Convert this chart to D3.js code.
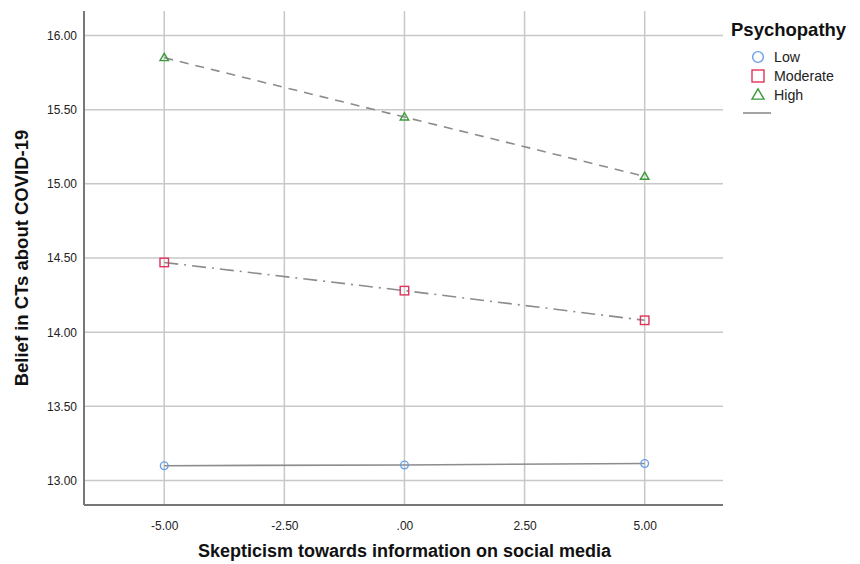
<!DOCTYPE html>
<html>
<head>
<meta charset="utf-8">
<script src="https://cdn.jsdelivr.net/npm/d3@7"></script>
<style>
  body { margin: 0; background: #fff; }
  text { font-family: "Liberation Sans", Arial, sans-serif; }
</style>
</head>
<body>
<svg id="chart" width="860" height="564"></svg>
<script>
// data
var xValues = [-5, 0, 5];
var xTicks = [-5, -2.5, 0, 2.5, 5];
var yTicks = [13, 13.5, 14, 14.5, 15, 15.5, 16];
var groups = ["Low", "Moderate", "High"];
var lowValues = [13.10, 13.105, 13.115];
var moderateValues = [14.47, 14.28, 14.08];
var highValues = [15.85, 15.45, 15.05];

var svg = d3.select("#chart"),
    margin = {top: 11, right: 137, bottom: 59, left: 84},
    width = +svg.attr("width") - margin.left - margin.right,
    height = +svg.attr("height") - margin.top - margin.bottom,
    g = svg.append("g").attr("transform", "translate(" + margin.left + "," + margin.top + ")");

var x = d3.scaleLinear().domain([-6.67, 6.63]).range([0, width]);
var y = d3.scaleLinear().domain([12.835, 16.165]).range([height, 0]);

function fmt(d) {
  var s = d3.format(".2f")(d).replace("\u2212", "-");
  return s.replace(/^0\./, ".").replace(/^-0\./, "-.");
}

// grid
g.append("g")
  .selectAll("line")
  .data(yTicks)
  .enter().append("line")
    .attr("x1", 0).attr("x2", width)
    .attr("y1", function(d) { return y(d); })
    .attr("y2", function(d) { return y(d); })
    .attr("stroke", "#c8c8c8").attr("stroke-width", 1.5);

g.append("g")
  .selectAll("line")
  .data(xTicks)
  .enter().append("line")
    .attr("y1", 0).attr("y2", height)
    .attr("x1", function(d) { return x(d); })
    .attr("x2", function(d) { return x(d); })
    .attr("stroke", "#c8c8c8").attr("stroke-width", 1.5);

// axes
var yAxis = g.append("g")
  .call(d3.axisLeft(y).tickValues(yTicks).tickFormat(fmt).tickSize(0).tickPadding(7));
var xAxis = g.append("g")
  .attr("transform", "translate(0," + height + ")")
  .call(d3.axisBottom(x).tickValues(xTicks).tickFormat(fmt).tickSize(0).tickPadding(16));

[xAxis, yAxis].forEach(function(a) {
  a.select(".domain").remove();
  a.selectAll("text").attr("font-size", 12).attr("fill", "#222")
    .style("font-family", "'Liberation Sans', Arial, sans-serif");
});

g.append("line").attr("x1", 0).attr("x2", 0).attr("y1", 0).attr("y2", height)
  .attr("stroke", "#777").attr("stroke-width", 2);
g.append("line").attr("x1", 0).attr("x2", width).attr("y1", height).attr("y2", height)
  .attr("stroke", "#777").attr("stroke-width", 2);

// axis titles
svg.append("text")
  .attr("x", margin.left + x(0))
  .attr("y", 557)
  .attr("text-anchor", "middle")
  .attr("font-size", 18).attr("font-weight", "bold").attr("fill", "#111")
  .text("Skepticism towards information on social media");

svg.append("text")
  .attr("transform", "translate(28," + (margin.top + height / 2) + ") rotate(-90)")
  .attr("text-anchor", "middle")
  .attr("font-size", 18.5).attr("font-weight", "bold").attr("fill", "#111")
  .text("Belief in CTs about COVID-19");

// series
var series = [
  {name: "Low", values: lowValues, dash: null, color: "#6a9fe6", shape: "circle"},
  {name: "Moderate", values: moderateValues, dash: "14,6,2,6", color: "#e0335a", shape: "square"},
  {name: "High", values: highValues, dash: "9,7", color: "#3a9a3a", shape: "triangle"}
];

var line = d3.line()
  .x(function(d, i) { return x(xValues[i]); })
  .y(function(d) { return y(d); });

series.forEach(function(s) {
  g.append("path")
    .datum(s.values)
    .attr("d", line)
    .attr("fill", "none")
    .attr("stroke", "#8c8c8c")
    .attr("stroke-width", 1.6)
    .attr("stroke-dasharray", s.dash);
});

function drawMarker(sel, shape, color, cx, cy, size) {
  if (shape === "circle") {
    sel.append("circle").attr("cx", cx).attr("cy", cy).attr("r", size * 0.45)
      .attr("fill", "none").attr("stroke", color).attr("stroke-width", 1.4);
  } else if (shape === "square") {
    sel.append("rect").attr("x", cx - size / 2).attr("y", cy - size / 2)
      .attr("width", size).attr("height", size)
      .attr("fill", "none").attr("stroke", color).attr("stroke-width", 1.4);
  } else {
    var h = size * 0.85;
    sel.append("path")
      .attr("d", "M" + cx + "," + (cy - h * 0.6) + "L" + (cx + size / 2) + "," + (cy + h * 0.4) +
                 "L" + (cx - size / 2) + "," + (cy + h * 0.4) + "Z")
      .attr("fill", "none").attr("stroke", color).attr("stroke-width", 1.4);
  }
}

series.forEach(function(s) {
  s.values.forEach(function(v, i) {
    drawMarker(g, s.shape, s.color, x(xValues[i]), y(v), 8.5);
  });
});

// legend
var legend = svg.append("g").attr("transform", "translate(731,0)");
legend.append("text")
  .attr("x", 0).attr("y", 36)
  .attr("font-size", 18.5).attr("font-weight", "bold").attr("fill", "#111")
  .text("Psychopathy");

series.forEach(function(s, i) {
  var cy = 57 + i * 19;
  drawMarker(legend, s.shape, s.color, 27, cy, 12);
  legend.append("text")
    .attr("x", 43).attr("y", cy + 5)
    .attr("font-size", 14.2).attr("fill", "#222")
    .text(groups[i]);
});

legend.append("line")
  .attr("x1", 12).attr("x2", 40).attr("y1", 113).attr("y2", 113)
  .attr("stroke", "#8c8c8c").attr("stroke-width", 1.6);
</script>
</body>
</html>
